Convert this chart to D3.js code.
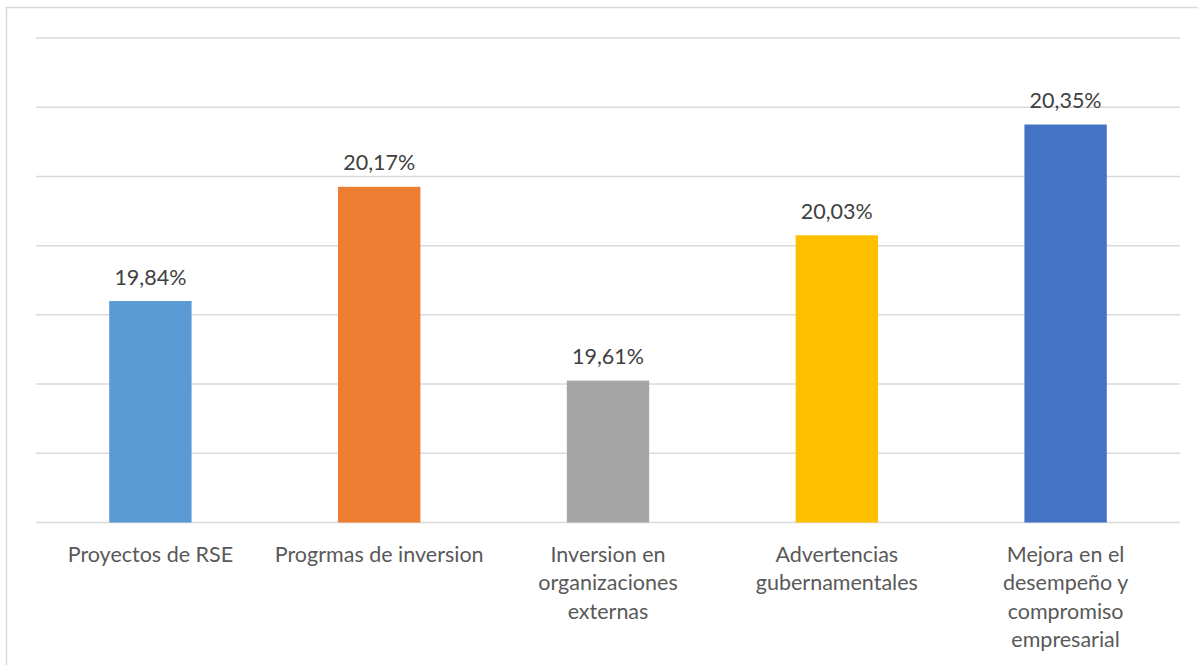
<!DOCTYPE html>
<html>
<head>
<meta charset="utf-8">
<script src="https://cdn.jsdelivr.net/npm/d3@7"></script>
<style>
  html, body { margin: 0; padding: 0; background: #fff; }
  svg { display: block; }
</style>
</head>
<body>
<svg id="chart" width="1198" height="665"></svg>
<script>
// Category names (line breaks as they wrap under each bar)
const categories = [
  "Proyectos de RSE",
  "Progrmas de inversion",
  "Inversion en\norganizaciones\nexternas",
  "Advertencias\ngubernamentales",
  "Mejora en el\ndesempeño y\ncompromiso\nempresarial"
];
// Share of each category, in percent
const values = [19.84, 20.17, 19.61, 20.03, 20.35];
// Value labels shown above the bars
const valueLabels = ["19,84%", "20,17%", "19,61%", "20,03%", "20,35%"];
// Gridline positions on the value axis
const gridTicks = [19.2, 19.4, 19.6, 19.8, 20.0, 20.2, 20.4, 20.6];
const colors = ["#5B9BD5", "#ED7D31", "#A5A5A5", "#FFC000", "#4472C4"];

const svg = d3.select("#chart");
const font = "Lato, 'Open Sans', sans-serif";
const fontSize = 21.5;

// Outer chart frame (runs past the right and bottom edges)
svg.append("rect")
  .attr("x", 6.5).attr("y", 7.5)
  .attr("width", 1220).attr("height", 700)
  .attr("fill", "#fff")
  .attr("stroke", "#d9d9d9").attr("stroke-width", 1.5);

const plotLeft = 36, plotRight = 1180, plotTop = 38, plotBottom = 522.5;

const x = d3.scaleBand()
  .domain(categories)
  .range([plotLeft, plotRight])
  .paddingInner(0.64)
  .paddingOuter(0.32);

const y = d3.scaleLinear()
  .domain([19.2, 20.6])
  .range([plotBottom, plotTop]);

// Horizontal gridlines
svg.append("g")
  .selectAll("line")
  .data(gridTicks)
  .join("line")
  .attr("x1", plotLeft).attr("x2", plotRight)
  .attr("y1", d => y(d)).attr("y2", d => y(d))
  .attr("stroke", "#d9d9d9")
  .attr("stroke-width", 1.5);

// Bars
svg.append("g")
  .selectAll("rect")
  .data(values)
  .join("rect")
  .attr("x", (d, i) => x(categories[i]))
  .attr("width", x.bandwidth())
  .attr("y", d => y(d))
  .attr("height", d => y(19.2) - y(d))
  .attr("fill", (d, i) => colors[i]);

// Value labels
svg.append("g")
  .selectAll("text")
  .data(values)
  .join("text")
  .attr("x", (d, i) => x(categories[i]) + x.bandwidth() / 2)
  .attr("y", d => y(d) - 16.5)
  .attr("text-anchor", "middle")
  .attr("font-family", font)
  .attr("font-size", fontSize)
  .attr("fill", "#404040")
  .text((d, i) => valueLabels[i]);

// Category axis labels
const xAxis = svg.append("g");
categories.forEach((c, i) => {
  const t = xAxis.append("text")
    .attr("x", x(c) + x.bandwidth() / 2)
    .attr("y", 562)
    .attr("text-anchor", "middle")
    .attr("font-family", font)
    .attr("font-size", fontSize)
    .attr("fill", "#595959");
  c.split("\n").forEach((line, j) => {
    t.append("tspan")
      .attr("x", x(c) + x.bandwidth() / 2)
      .attr("y", 562 + j * 28.3)
      .text(line);
  });
});
</script>
</body>
</html>
